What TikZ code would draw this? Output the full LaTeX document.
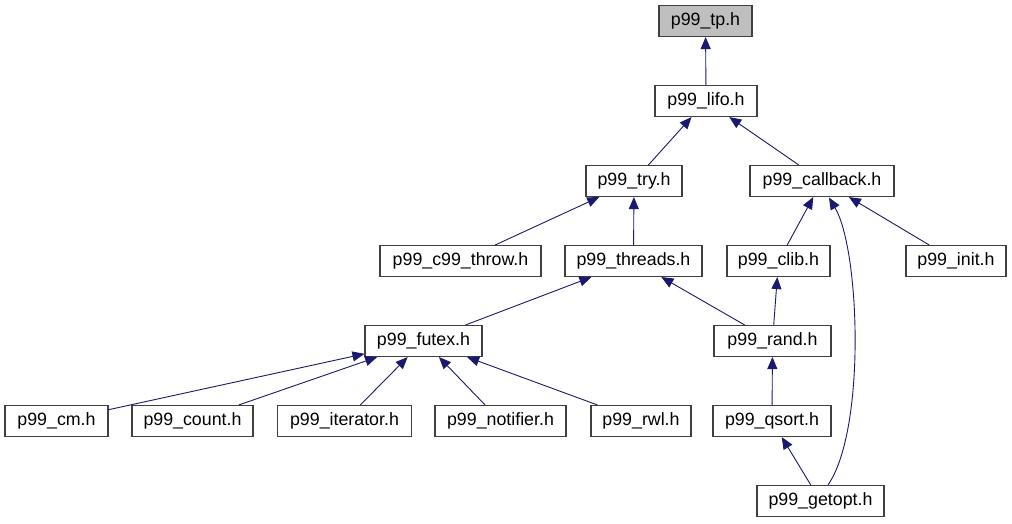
\documentclass[tikz,border=0pt]{standalone}
\usepackage{fontspec}
\setmainfont{Liberation Sans}
\usetikzlibrary{arrows.meta,calc}
\definecolor{edgeblue}{RGB}{25,25,112}
\definecolor{boxline}{RGB}{64,64,64}
\definecolor{curfill}{RGB}{191,191,191}
\tikzset{
  filebox/.style={draw=boxline, line width=1.1pt, fill=white, minimum height=31pt, inner sep=0pt,
    font=\fontsize{17.8}{20}\selectfont, text=black},
  dep/.style={draw=edgeblue, line width=0.9pt, -{Triangle[length=12pt,width=10pt]}},
}
\begin{document}
\begin{tikzpicture}[x=1pt,y=-1pt]
\useasboundingbox[fill=white] (0,0) rectangle (1012,523);
% row 0
\node[filebox, fill=curfill, minimum width=93pt] (tp) at (705.5,21) {p99\_tp.h};
% row 1
\node[filebox, minimum width=102pt] (lifo) at (706,101) {p99\_lifo.h};
% row 2
\node[filebox, minimum width=96pt] (try) at (634,181) {p99\_try.h};
\node[filebox, minimum width=144pt] (callback) at (822,181) {p99\_callback.h};
% row 3
\node[filebox, minimum width=161pt] (throw) at (460.5,261) {p99\_c99\_throw.h};
\node[filebox, minimum width=137pt] (threads) at (633.5,261) {p99\_threads.h};
\node[filebox, minimum width=103pt] (clib) at (778.5,261) {p99\_clib.h};
\node[filebox, minimum width=100pt] (init) at (956,261) {p99\_init.h};
% row 4
\node[filebox, minimum width=117pt] (futex) at (423.5,341) {p99\_futex.h};
\node[filebox, minimum width=117pt] (rand) at (772.5,341) {p99\_rand.h};
% row 5
\node[filebox, minimum width=103pt] (cm) at (56.5,421) {p99\_cm.h};
\node[filebox, minimum width=121pt] (count) at (192.5,421) {p99\_count.h};
\node[filebox, minimum width=134pt] (iterator) at (344.5,421) {p99\_iterator.h};
\node[filebox, minimum width=131pt] (notifier) at (500.5,421) {p99\_notifier.h};
\node[filebox, minimum width=100pt] (rwl) at (641,421) {p99\_rwl.h};
\node[filebox, minimum width=118pt] (qsort) at (772,421) {p99\_qsort.h};
% row 6
\node[filebox, minimum width=127pt] (getopt) at (820.5,501) {p99\_getopt.h};

% edges (child -> parent)
\draw[dep] (lifo) -- (tp);
\draw[dep] (try) -- (lifo);
\draw[dep] (callback) -- (lifo);
\draw[dep] (throw) -- (try);
\draw[dep] (threads) -- (try);
\draw[dep] (clib) -- (callback);
\draw[dep] (init) -- (callback);
\draw[dep] (futex) -- (threads);
\draw[dep] (rand) -- (threads);
\draw[dep] (rand) -- (clib);
\draw[dep] (cm) -- (futex);
\draw[dep] (count) -- (futex);
\draw[dep] (iterator) -- (futex);
\draw[dep] (notifier) -- (futex);
\draw[dep] (rwl) -- (futex);
\draw[dep] (qsort) -- (rand);
\draw[dep] (getopt) -- (qsort);
\coordinate (gtop) at ($(getopt.north)+(7.5,0)$);
\coordinate (cbot) at ($(callback.south)+(7,0.5)$);
\draw[dep] (gtop) .. controls (866,430) and (860,250) .. (cbot);
\end{tikzpicture}
\end{document}
